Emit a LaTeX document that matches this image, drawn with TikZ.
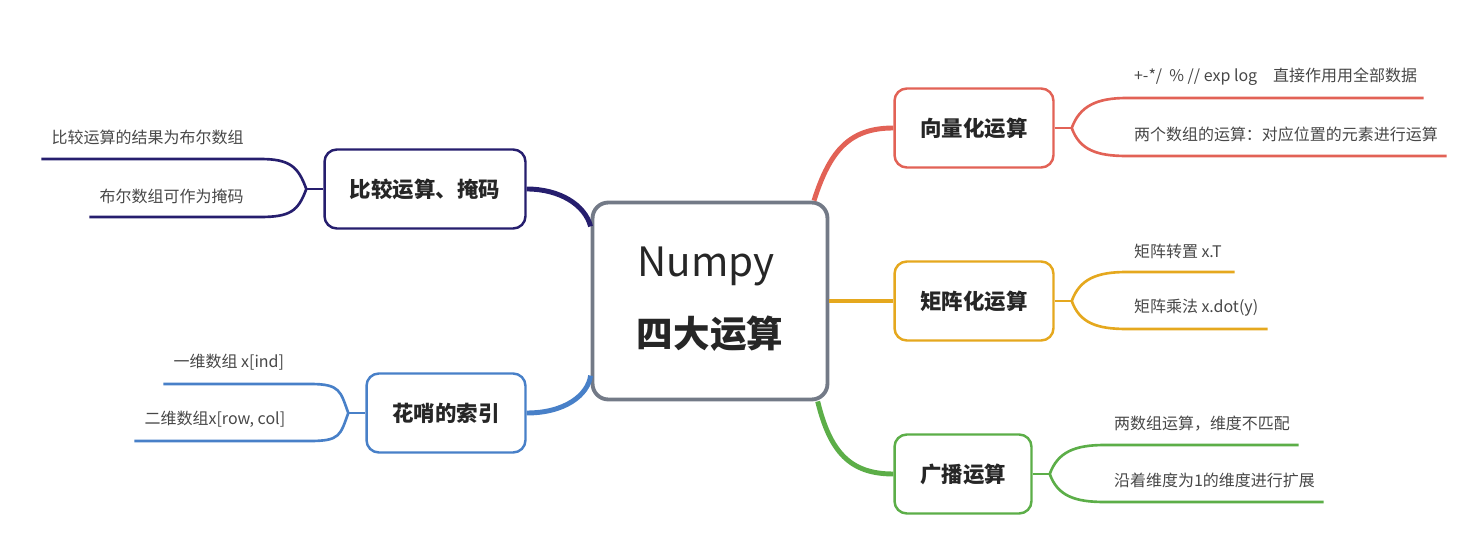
\documentclass[tikz,border=0pt]{standalone}
\usepackage{fontspec}
\setmainfont{Noto Sans CJK SC}
\usepackage{tikz}
\usetikzlibrary{positioning}
\definecolor{vecred}{RGB}{226,98,86}
\definecolor{matorange}{RGB}{229,168,30}
\definecolor{bcgreen}{RGB}{92,174,72}
\definecolor{cmpnavy}{RGB}{38,30,110}
\definecolor{idxblue}{RGB}{72,128,200}
\definecolor{npgray}{RGB}{115,122,135}

\begin{document}
\begin{tikzpicture}[x=0.02cm, y=-0.02cm,
    topic/.style={draw=#1, line width=1.4pt, rounded corners=7pt, fill=white, minimum height=1.58cm, font=\bfseries\fontsize{12.2pt}{14pt}\selectfont, text=black!85},
    leaf/.style={anchor=west, inner sep=0pt, font=\fontsize{9.1pt}{11pt}\selectfont, text=black!72},
    branch/.style={draw=#1, line width=2.8pt},
    twig/.style={draw=#1, line width=1.5pt}]
    \useasboundingbox (0,0) rectangle (1473,553);

    % centre
    \node[draw=npgray, line width=2.2pt, rounded corners=9pt, fill=white, minimum width=4.7cm, minimum height=3.94cm] (np) at (710,301) {};
    \node[font=\fontsize{23pt}{25pt}\selectfont, text=black!85] (npname) at (706,266) {Numpy};
    \node[font=\bfseries\fontsize{20.8pt}{23pt}\selectfont, text=black!85] (nptitle) at (710,334) {四大运算};

    % topics
    \node[topic=vecred, minimum width=3.18cm] (vec) at (974,128) {向量化运算};
    \node[topic=matorange, minimum width=3.18cm] (mat) at (974,301) {矩阵化运算};
    \node[topic=bcgreen, minimum width=2.74cm] (bc) at (963,474) {广播运算};
    \node[topic=cmpnavy, minimum width=4.02cm] (cmp) at (425,189) {比较运算、掩码};
    \node[topic=idxblue, minimum width=3.18cm] (idx) at (446,413) {花哨的索引};

    % main branches
    \draw[branch=vecred] (np.44) .. controls (830,150) and (850,128) .. (vec.west);
    \draw[branch=matorange] (np.east) -- (mat.west);
    \draw[branch=bcgreen] (np.-43) .. controls (830,452) and (850,474) .. (bc.west);
    \draw[branch=cmpnavy] (cmp.east) .. controls (560,189) and (585,205) .. (np.148);
    \draw[branch=idxblue] (idx.east) .. controls (565,413) and (588,395) .. (np.212);

    % vec
    \coordinate[right=0.34cm of vec.east] (vecf);
    \draw[twig=vecred] (vec.east) -- (vecf);
    \draw[twig=vecred] (vecf) .. controls +(8,-22) and +(-30,0) .. ++(55,-30) coordinate (veca) -- ++(297,0) coordinate (vecu);
    \draw[twig=vecred] (vecf) .. controls +(8,22) and +(-30,0) .. ++(55,28) coordinate (vecb) -- ++(320,0) coordinate (vecl);
    \node[leaf] (vect1) at ([shift={(7,-21)}]veca) {+-*/\ \ \% // exp log\quad 直接作用用全部数据};
    \node[leaf] (vect2) at ([shift={(7,-22)}]vecb) {两个数组的运算：对应位置的元素进行运算};

    % mat
    \coordinate[right=0.34cm of mat.east] (matf);
    \draw[twig=matorange] (mat.east) -- (matf);
    \draw[twig=matorange] (matf) .. controls +(8,-22) and +(-30,0) .. ++(55,-29) coordinate (mata) -- ++(108,0) coordinate (matu);
    \draw[twig=matorange] (matf) .. controls +(8,22) and +(-30,0) .. ++(55,28) coordinate (matb) -- ++(141,0) coordinate (matl);
    \node[leaf] (matt1) at ([shift={(7,-21)}]mata) {矩阵转置 x.T};
    \node[leaf] (matt2) at ([shift={(7,-21)}]matb) {矩阵乘法 x.dot(y)};

    % bc
    \coordinate[right=0.34cm of bc.east] (bcf);
    \draw[twig=bcgreen] (bc.east) -- (bcf);
    \draw[twig=bcgreen] (bcf) .. controls +(8,-22) and +(-30,0) .. ++(55,-29) coordinate (bca) -- ++(194,0) coordinate (bcu);
    \draw[twig=bcgreen] (bcf) .. controls +(8,22) and +(-30,0) .. ++(55,28) coordinate (bcb) -- ++(219,0) coordinate (bcl);
    \node[leaf] (bct1) at ([shift={(9,-21)}]bca) {两数组运算，维度不匹配};
    \node[leaf] (bct2) at ([shift={(9,-22)}]bcb) {沿着维度为1的维度进行扩展};

    % cmp
    \coordinate[left=0.34cm of cmp.west] (cmpf);
    \draw[twig=cmpnavy] (cmp.west) -- (cmpf);
    \draw[twig=cmpnavy] (cmpf) .. controls +(-8,-22) and +(30,0) .. ++(-46,-30) coordinate (cmpa) -- ++(-219,0) coordinate (cmpu);
    \draw[twig=cmpnavy] (cmpf) .. controls +(-8,22) and +(30,0) .. ++(-46,28) coordinate (cmpb) -- ++(-171,0) coordinate (cmpl);
    \node[leaf] (cmpt1) at ([shift={(10,-22)}]cmpu) {比较运算的结果为布尔数组};
    \node[leaf] (cmpt2) at ([shift={(10,-21)}]cmpl) {布尔数组可作为掩码};

    % idx
    \coordinate[left=0.34cm of idx.west] (idxf);
    \draw[twig=idxblue] (idx.west) -- (idxf);
    \draw[twig=idxblue] (idxf) .. controls +(-8,-22) and +(30,0) .. ++(-38,-29) coordinate (idxa) -- ++(-147,0) coordinate (idxu);
    \draw[twig=idxblue] (idxf) .. controls +(-8,22) and +(30,0) .. ++(-38,28) coordinate (idxb) -- ++(-176,0) coordinate (idxl);
    \node[leaf] (idxt1) at ([shift={(10,-22)}]idxu) {一维数组 x[ind]};
    \node[leaf] (idxt2) at ([shift={(10,-22)}]idxl) {二维数组x[row, col]};
\end{tikzpicture}
\end{document}
